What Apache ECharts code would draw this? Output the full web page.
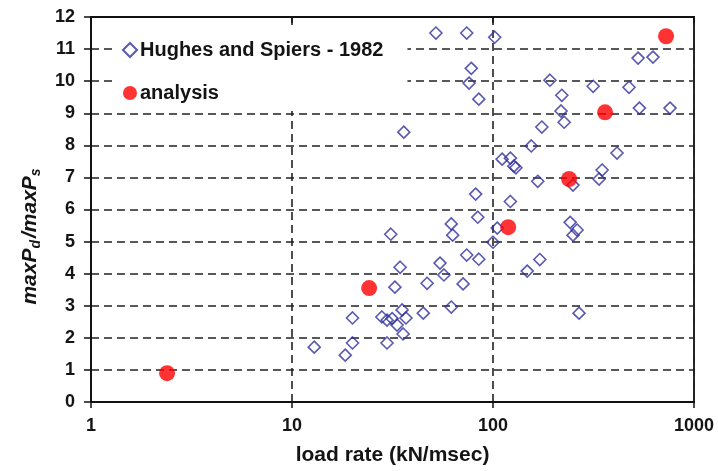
<!DOCTYPE html>
<html>
<head>
<meta charset="utf-8">
<script src="https://cdn.jsdelivr.net/npm/echarts@6/dist/echarts.min.js"></script>
<style>
html,body{margin:0;padding:0;background:#fff;}
#c{width:718px;height:471px;}
</style>
</head>
<body>
<div id="c"></div>
<script>
// ---- data ----
var hughesX = [52, 74, 102, 78, 76, 85, 36, 192, 220, 218, 226, 175, 155, 527, 625, 315, 475, 535, 760, 414, 349, 337, 250, 242, 262, 250, 148, 171, 268, 100, 105, 122, 111, 122, 127, 130, 167, 82, 84, 62, 63, 74, 85, 54.5, 57, 47, 71, 62, 45, 31, 34.5, 32.5, 20, 28, 29.7, 31.5, 33.3, 35.3, 36.9, 35.7, 12.9, 20, 18.4, 29.7];
var hughesY = [11.5, 11.5, 11.37, 10.4, 9.94, 9.44, 8.41, 10.03, 9.56, 9.07, 8.72, 8.57, 7.98, 10.72, 10.75, 9.84, 9.81, 9.16, 9.16, 7.76, 7.23, 6.95, 6.76, 5.6, 5.36, 5.2, 4.08, 4.44, 2.77, 4.98, 5.42, 6.25, 7.57, 7.6, 7.35, 7.3, 6.88, 6.48, 5.76, 5.55, 5.2, 4.58, 4.45, 4.33, 3.96, 3.7, 3.68, 2.96, 2.77, 5.23, 4.2, 3.58, 2.62, 2.65, 2.55, 2.6, 2.4, 2.87, 2.62, 2.12, 1.71, 1.84, 1.46, 1.84];
var analysisX = [2.39, 24.2, 119, 239, 361, 726];
var analysisY = [0.9, 3.55, 5.45, 6.95, 9.03, 11.4];
var xTickLabels = ['1', '10', '100', '1000'];
var yTickLabels = ['0','1','2','3','4','5','6','7','8','9','10','11','12'];
var seriesNames = ['Hughes and Spiers - 1982', 'analysis'];
var xTitle = 'load rate (kN/msec)';

function pairs(xs, ys) { return xs.map(function (x, i) { return [x, ys[i]]; }); }

var FONT = '"Liberation Sans", Arial, sans-serif';
var TXT = '#141414';
var dash = { type: [8, 5], width: 1.6, color: '#222' };

var chart = echarts.init(document.getElementById('c'), null, { renderer: 'canvas' });
chart.setOption({
  animation: false,
  backgroundColor: '#fff',
  grid: { left: 91, right: 24, top: 17, bottom: 69, show: true, borderColor: '#111', borderWidth: 1.8, backgroundColor: 'transparent' },
  legend: {
    orient: 'vertical', left: 112, top: 27,
    padding: [13, 24, 8, 10],
    itemGap: 23, itemWidth: 14, itemHeight: 14,
    backgroundColor: '#fff',
    data: seriesNames,
    textStyle: { fontFamily: FONT, fontWeight: 'bold', fontSize: 20, color: TXT, padding: [0, 0, 0, -2] }
  },
  xAxis: [{
    type: 'log', logBase: 10, min: 1, max: 1000,
    name: xTitle, nameLocation: 'middle', nameGap: 43,
    nameTextStyle: { fontFamily: FONT, fontWeight: 'bold', fontSize: 21, color: TXT },
    axisLine: { show: true, lineStyle: { color: '#111', width: 1.8 } },
    axisTick: { show: true, inside: false, length: 6, lineStyle: { color: '#111', width: 1.5 } },
    minorTick: { show: false },
    axisLabel: { margin: 15, fontFamily: FONT, fontWeight: 'bold', fontSize: 18, color: TXT,
      formatter: function (v) { var e = Math.round(Math.log10(v)); return xTickLabels[e]; } },
    splitLine: { show: true, lineStyle: dash }
  }, {
    type: 'log', logBase: 10, min: 1, max: 1000, position: 'top',
    axisLine: { show: true, lineStyle: { color: '#111', width: 1.8 } },
    axisTick: { show: true, inside: true, length: 6, lineStyle: { color: '#111', width: 1.5 } },
    axisLabel: { show: false }, splitLine: { show: false }
  }],
  yAxis: [{
    type: 'value', min: 0, max: 12, interval: 1,
    name: '{a|maxP}{b|d}{a|/maxP}{b|s}',
    nameLocation: 'middle', nameGap: 48, nameRotate: 90,
    nameTextStyle: {
      fontFamily: FONT, fontWeight: 'bold', fontStyle: 'italic', fontSize: 21, color: TXT,
      padding: [0, 52, 0, 0],
      rich: {
        a: { fontFamily: FONT, fontWeight: 'bold', fontStyle: 'italic', fontSize: 21, color: TXT, lineHeight: 26, verticalAlign: 'middle' },
        b: { fontFamily: FONT, fontWeight: 'bold', fontStyle: 'italic', fontSize: 14, color: TXT, lineHeight: 26, verticalAlign: 'bottom', padding: [0, 2, 0, 0] }
      }
    },
    axisLine: { show: true, lineStyle: { color: '#111', width: 1.8 } },
    axisTick: { show: true, inside: false, length: 7, lineStyle: { color: '#111', width: 1.5 } },
    axisLabel: { margin: 16, fontFamily: FONT, fontWeight: 'bold', fontSize: 18, color: TXT,
      formatter: function (v) { return yTickLabels[Math.round(v)]; } },
    splitLine: { show: true, lineStyle: dash }
  }],
  series: [{
    name: seriesNames[0], type: 'scatter', xAxisIndex: 0, yAxisIndex: 0,
    symbol: 'diamond', symbolSize: 12,
    itemStyle: { color: 'rgba(255,255,255,0)', borderColor: '#2f2f9c', borderWidth: 1.6 },
    data: pairs(hughesX, hughesY), z: 3
  }, {
    name: seriesNames[1], type: 'scatter', xAxisIndex: 0, yAxisIndex: 0,
    symbol: 'circle', symbolSize: 16,
    itemStyle: { color: '#ff0000' },
    data: pairs(analysisX, analysisY), z: 4
  }]
});
</script>
</body>
</html>
